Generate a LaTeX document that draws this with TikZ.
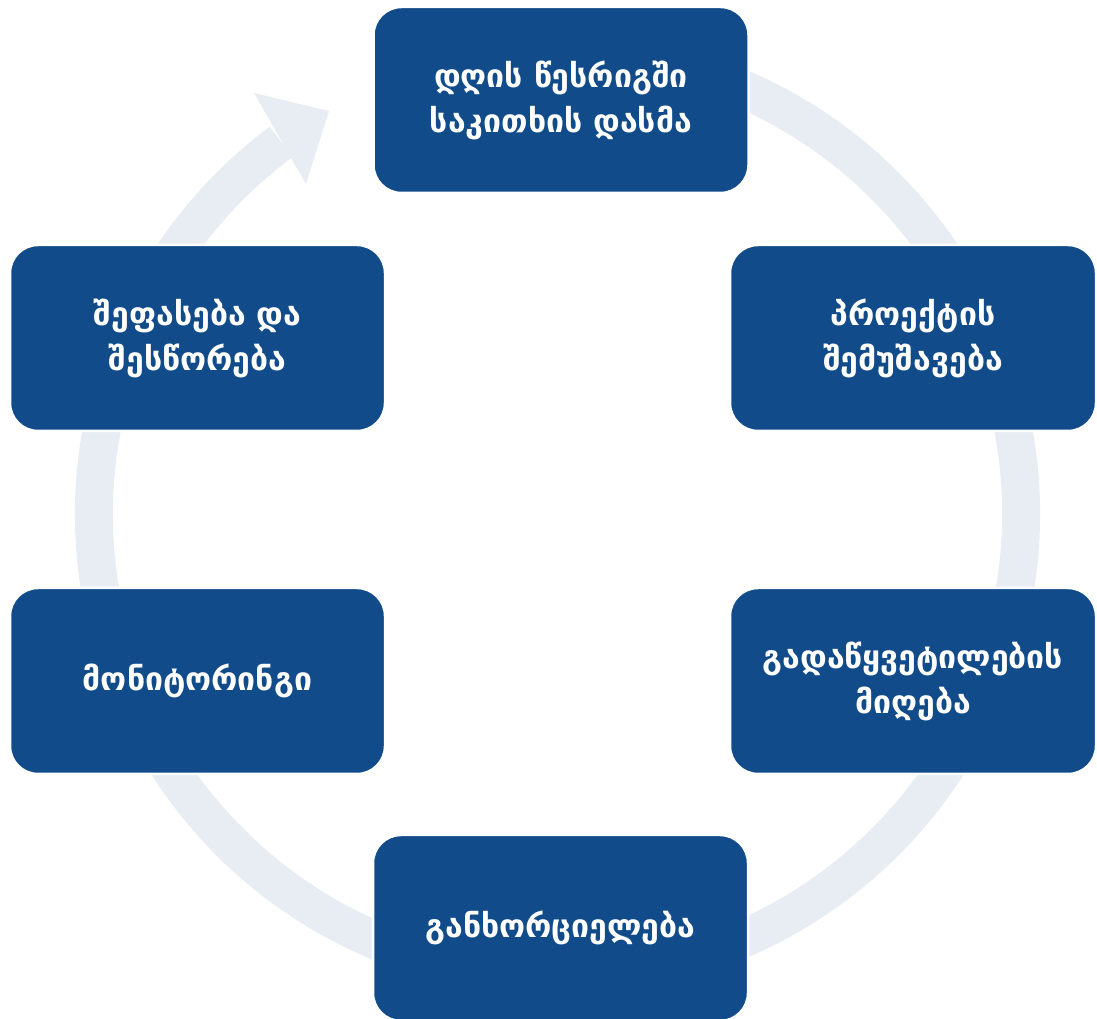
\documentclass[tikz,border=0pt]{standalone}
\usepackage{fontspec}
\newfontfamily\geofont{DejaVu Sans}
\usetikzlibrary{positioning}
\definecolor{boxblue}{RGB}{17,75,138}
\definecolor{ringgrey}{RGB}{232,237,244}
\begin{document}
\begin{tikzpicture}[x=1pt,y=1pt,
  stagebox/.style={draw=white, line width=2.5pt, fill=boxblue, rounded corners=28pt,
    minimum width=375pt, minimum height=186pt, text=white, align=center,
    font=\geofont\bfseries\fontsize{32}{45}\selectfont, inner sep=0pt},
  ringline/.style={draw=ringgrey, line width=38pt}]
\useasboundingbox (0,0) rectangle (1097,1019);
\coordinate (c) at (557.5,505);
% ring
\draw[ringline] (c) ++(75:463.5) arc[start angle=75, end angle=-233.4, radius=463.5];
% arrow head
\coordinate (tipA) at (329,908);
\coordinate (tipB) at (254,926);
\coordinate (tipC) at (306,835);
\fill[ringgrey] (tipB) -- (tipA) -- (tipC) -- cycle;
% boxes
\node[stagebox] (s1) at (561,919) {დღის წესრიგში\\საკითხის დასმა};
\node[stagebox, minimum width=366pt] (s2) at (913,681) {პროექტის\\შემუშავება};
\node[stagebox, minimum width=366pt] (s3) at (913,338) {გადაწყვეტილების\\მიღება};
\node[stagebox] (s4) at (560.5,91) {განხორციელება};
\node[stagebox] (s5) at (197.5,338) {მონიტორინგი};
\node[stagebox] (s6) at (197.5,681) {შეფასება და\\შესწორება};
\end{tikzpicture}
\end{document}
